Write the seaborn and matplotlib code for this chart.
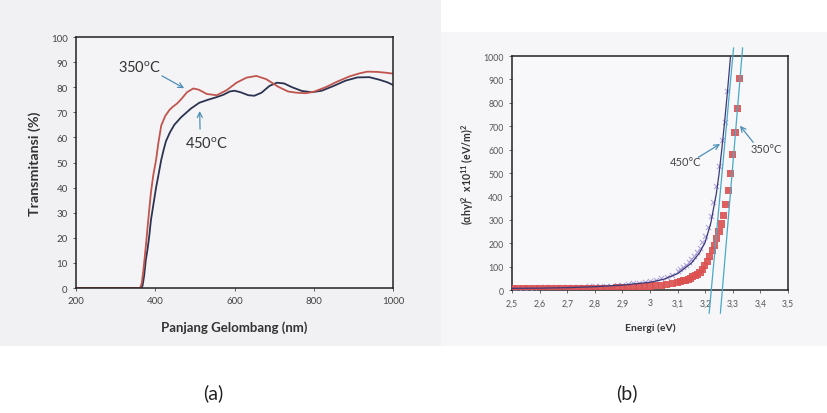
import numpy as np
import pandas as pd
import matplotlib
matplotlib.use("Agg")
import matplotlib.pyplot as plt
from matplotlib.patches import Rectangle
from matplotlib.ticker import FixedLocator, FixedFormatter
import seaborn as sns

# ---- panel (a): transmittance spectra ----
wl_350 = [200, 300, 362, 366, 370, 373, 377, 381, 385, 389, 395, 402, 408, 415, 425, 436,
          445, 455, 467, 480, 496, 510, 530, 555, 580, 605, 630, 655, 680, 710, 735, 757,
          780, 800, 830, 860, 890, 915, 935, 960, 980, 1000]
t_350 = [0, 0, 0, 2, 7, 11.6, 18, 25, 31.5, 38, 45, 51, 58, 64.7, 68.5, 71,
         72.3, 73.5, 75.5, 78, 79.5, 79, 77.3, 76.8, 78.8, 81.8, 83.8, 84.5, 83.2, 80.2, 78.3, 77.8,
         77.6, 78.2, 80, 82.3, 84.3, 85.5, 86.2, 86.1, 85.8, 85.4]

wl_450 = [200, 300, 365, 368, 372, 376, 381, 385, 389, 395, 402, 408, 415, 421, 427, 437,
          448, 465, 490, 511, 533, 554, 572, 588, 600, 615, 635, 650, 668, 688, 707, 725,
          745, 770, 795, 820, 850, 880, 910, 940, 965, 985, 1000]
t_450 = [0, 0, 0, 1, 5, 11, 16, 21, 27, 33, 40, 45, 51, 55, 58.5, 62,
         65, 68, 71.5, 73.8, 75, 76, 77, 78.3, 78.6, 78, 76.8, 76.6, 77.8, 80.5, 81.8, 81.5,
         80, 78.5, 78, 78.6, 80.5, 82.6, 83.9, 84, 83, 82, 80.9]

# ---- panel (b): Tauc plot ----
e_350 = [2.50, 2.52, 2.54, 2.56, 2.58, 2.60, 2.62, 2.64, 2.66, 2.68, 2.70, 2.72, 2.74, 2.76,
         2.78, 2.80, 2.82, 2.84, 2.86, 2.88, 2.90, 2.92, 2.94, 2.96, 2.98, 3.00, 3.02, 3.04,
         3.06, 3.08, 3.100, 3.110, 3.120, 3.129, 3.138, 3.146, 3.155, 3.164, 3.172, 3.181,
         3.190, 3.199, 3.208, 3.216, 3.225, 3.233, 3.242, 3.250, 3.258, 3.267, 3.275, 3.284,
         3.292, 3.300, 3.308, 3.317, 3.325]
a_350 = [6, 6, 5, 5, 5, 5, 5, 5, 5, 5, 6, 6, 6, 6,
         6, 7, 7, 8, 8, 9, 10, 11, 12, 13, 15, 17, 19, 21,
         24, 28, 32, 35, 39, 42, 46, 51, 56, 62, 68, 76,
         88, 104, 122, 143, 168, 192, 221, 249, 282, 318, 367, 427,
         499, 581, 674, 776, 905]

e_450 = [2.50, 2.52, 2.54, 2.56, 2.58, 2.60, 2.62, 2.64, 2.66, 2.68, 2.70, 2.72, 2.74, 2.76,
         2.78, 2.80, 2.82, 2.84, 2.86, 2.88, 2.90, 2.92, 2.94, 2.96, 2.98, 3.00, 3.02, 3.04,
         3.06, 3.08, 3.10, 3.11, 3.12, 3.13, 3.14, 3.15, 3.16, 3.17, 3.18, 3.19, 3.20, 3.21,
         3.22, 3.23, 3.24, 3.25, 3.26, 3.27, 3.28]
a_450 = [10, 10, 10, 10, 10, 11, 11, 11, 11, 12, 12, 13, 13, 14,
         15, 16, 17, 18, 19, 21, 23, 25, 28, 31, 35, 39, 44, 50,
         57, 66, 80, 88, 97, 107, 119, 132, 147, 162, 180, 204, 232, 270,
         318, 375, 445, 530, 640, 720, 850]

e_fit = [2.50, 2.60, 2.70, 2.80, 2.90, 3.00, 3.05, 3.10, 3.15, 3.18, 3.20, 3.22, 3.24, 3.25,
         3.26, 3.27, 3.28, 3.29, 3.30]
a_fit = [7, 8, 10, 14, 21, 33, 46, 70, 115, 160, 205, 285, 410, 495,
         600, 715, 840, 975, 1120]

# extrapolated band gaps (x intercept) and where the tangent lines reach 1000
eg_350, top_350 = 3.262, 3.333
eg_450, top_450 = 3.222, 3.300

xticks_b = [2.5, 2.6, 2.7, 2.8, 2.9, 3.0, 3.1, 3.2, 3.3, 3.4, 3.5]
xlabels_b = ["2,5", "2,6", "2,7", "2,8", "2,9", "3", "3,1", "3,2", "3,3", "3,4", "3,5"]

sns.set_style("ticks")
plt.rcParams['font.family'] = ['Lato', 'DejaVu Sans']

red_a = '#c0554e'
dark_a = '#2c3350'
arrow_c = '#4d90b6'
deg = '$^\\mathregular{o}$C'


def arrow(ax, tail, head):
    ax.annotate('', xy=head, xytext=tail,
                arrowprops=dict(arrowstyle='->', color=arrow_c, lw=0.9,
                                shrinkA=0, shrinkB=0, mutation_scale=9))


fig = plt.figure(figsize=(8.28, 4.14), dpi=100)
fig.patch.set_facecolor('white')
fig.patches.append(Rectangle((0, 0.1618), 0.5326, 0.8382, transform=fig.transFigure,
                             facecolor='#f1f1f3', edgecolor='none', zorder=-10))
fig.patches.append(Rectangle((0.5326, 0.1618), 0.4674, 0.7585, transform=fig.transFigure,
                             facecolor='#f6f6f8', edgecolor='none', zorder=-10))

# ---------------- (a) ----------------
ax1 = fig.add_axes([0.0918, 0.3019, 0.3829, 0.6063])
ax1.set_facecolor('#f4f4f6')
df350 = pd.DataFrame({'wl': wl_350, 't': t_350})
df450 = pd.DataFrame({'wl': wl_450, 't': t_450})
sns.lineplot(data=df450, x='wl', y='t', ax=ax1, color=dark_a, lw=1.3)
sns.lineplot(data=df350, x='wl', y='t', ax=ax1, color=red_a, lw=1.3)
ax1.set_xlim(200, 1000)
ax1.set_ylim(0, 100)
ax1.set_xticks([200, 400, 600, 800, 1000])
ax1.set_yticks(range(0, 101, 10))
ax1.tick_params(labelsize=7, colors='#444444', length=2.5, width=0.6)
ax1.set_xlabel('Panjang Gelombang (nm)', fontsize=9.5, fontweight='bold', color='#333333')
ax1.set_ylabel('Transmitansi (%)', fontsize=10.3, fontweight='bold', color='#333333')
ax1.yaxis.set_label_coords(-0.11, 0.5)
ax1.xaxis.set_label_coords(0.5, -0.127)
for s in ax1.spines.values():
    s.set_color('#222222')
    s.set_linewidth(1.1)
ax1.text(362, 88, '350' + deg, fontsize=10.5, color='#333333', ha='center', va='center')
arrow(ax1, (417, 84.5), (473, 79.6))
ax1.text(531, 57.8, '450' + deg, fontsize=10.5, color='#333333', ha='center', va='center')
arrow(ax1, (513, 63.3), (512, 70.5))

# ---------------- (b) ----------------
ax2 = fig.add_axes([0.6184, 0.2971, 0.3333, 0.5652])
ax2.set_facecolor('#f8f8fa')
sns.scatterplot(x=e_450, y=a_450, ax=ax2, marker='x', s=14, color='#9a88d0',
                linewidth=0.7, alpha=0.8, zorder=3)
sns.scatterplot(x=e_350, y=a_350, ax=ax2, marker='s', s=26, color='#dc5050',
                edgecolor='none', alpha=0.9, zorder=4)
sns.lineplot(x=e_fit, y=a_fit, ax=ax2, color='#3a3a78', lw=0.9, zorder=5)
for eg, top in [(eg_350, top_350), (eg_450, top_450)]:
    k = 1000.0 / (top - eg)
    yy = np.array([-100.0, 1035.0])
    ax2.plot(eg + yy / k, yy, color='#4aa8c8', lw=0.9, clip_on=False, zorder=6)
ax2.set_xlim(2.5, 3.5)
ax2.set_ylim(0, 1000)
ax2.xaxis.set_major_locator(FixedLocator(xticks_b))
ax2.xaxis.set_major_formatter(FixedFormatter(xlabels_b))
ax2.set_yticks(range(0, 1001, 100))
ax2.tick_params(labelsize=6.3, colors='#555555', length=2.5, width=0.6)
ax2.set_xlabel('Energi (eV)', fontsize=7.5, fontweight='bold', color='#333333')
ax2.set_ylabel('(αhγ)$^\\mathregular{2}$  x10$^\\mathregular{11}$ (eV/m)$^\\mathregular{2}$',
               fontsize=7.6, fontweight='bold', color='#333333')
ax2.yaxis.set_label_coords(-0.13, 0.5)
ax2.xaxis.set_label_coords(0.5, -0.137)
for s in ax2.spines.values():
    s.set_color('#222222')
    s.set_linewidth(1.1)
ax2.text(3.127, 548, '450°C', fontsize=8, color='#444444', ha='center', va='center')
arrow(ax2, (3.175, 567), (3.254, 624))
ax2.text(3.423, 605, '350°C', fontsize=8, color='#444444', ha='center', va='center')
arrow(ax2, (3.374, 631), (3.326, 702))

fig.text(213 / 828, 1 - 393 / 414, '(a)', ha='center', va='center', fontsize=14, color='#222222')
fig.text(627 / 828, 1 - 393 / 414, '(b)', ha='center', va='center', fontsize=14, color='#222222')

fig.savefig('out.png', dpi=100)
